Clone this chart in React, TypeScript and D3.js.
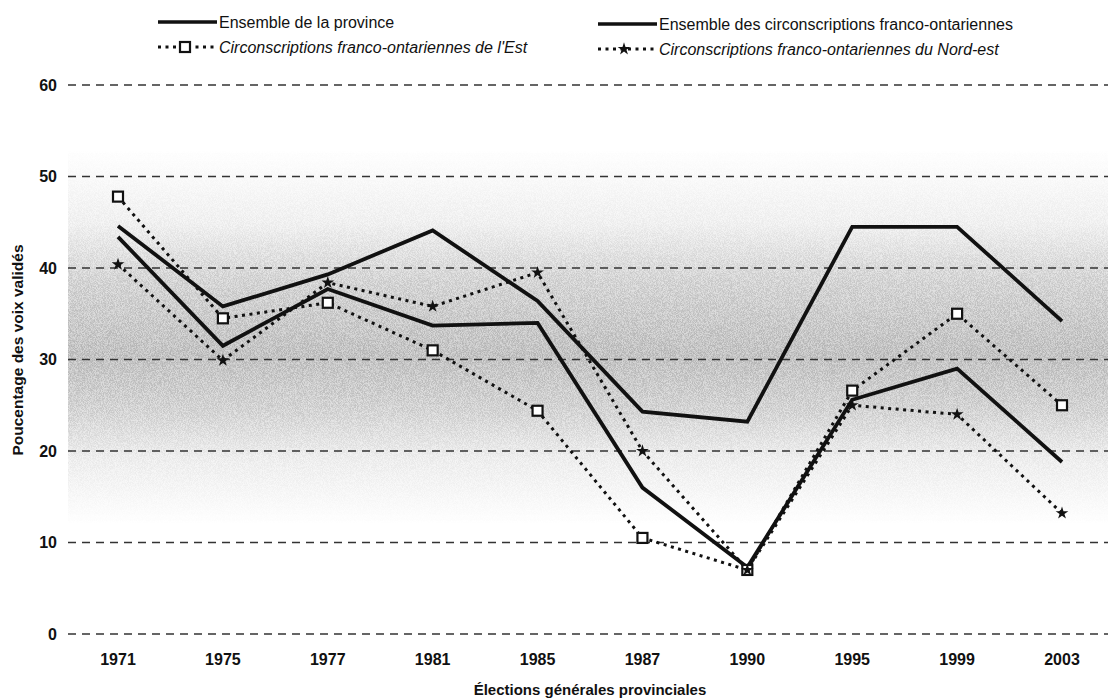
import React from 'react';
import * as d3 from 'd3';

// années des élections
const years = ['1971', '1975', '1977', '1981', '1985', '1987', '1990', '1995', '1999', '2003'];
// pourcentages
const province = [44.6, 35.8, 39.3, 44.1, 36.4, 24.3, 23.2, 44.5, 44.5, 34.2];
const francoOnt = [43.4, 31.5, 37.7, 33.7, 34.0, 16.0, 7.3, 25.6, 29.0, 18.8];
const est = [47.8, 34.5, 36.2, 31.0, 24.4, 10.5, 7.0, 26.6, 35.0, 25.0];
const nordEst = [40.4, 29.9, 38.4, 35.8, 39.5, 20.0, 7.0, 25.0, 24.0, 13.2];
const yTicks = [0, 10, 20, 30, 40, 50, 60];

const W = 1108;
const H = 700;
const narrow = '"Liberation Sans Narrow", "Arial Narrow", "Liberation Sans", Arial, sans-serif';
const sans = '"Liberation Sans", Arial, sans-serif';

export default function App() {
  const x = d3.scalePoint().domain(years).range([118, 1062]).padding(0);
  const y = d3.scaleLinear().domain([0, 60]).range([634, 85]);

  const line = d3
    .line<number>()
    .x((_, i) => x(years[i]) as number)
    .y((d) => y(d));

  const star = d3.symbol().type(d3.symbolStar).size(50)();

  const dotted = { fill: 'none', stroke: '#111', strokeWidth: 3, strokeDasharray: '3 4.5' };
  const solid = { fill: 'none', stroke: '#111', strokeWidth: 3.8, strokeLinejoin: 'miter' as const };

  return (
    <svg width={W} height={H} style={{ position: 'absolute', left: 0, top: 0, background: '#fff' }}>
      <defs>
        <linearGradient id="band" x1="0" y1="0" x2="0" y2="1">
          <stop offset="0" stopColor="#000" stopOpacity="0" />
          <stop offset="0.2" stopColor="#000" stopOpacity="0.1" />
          <stop offset="0.35" stopColor="#000" stopOpacity="0.3" />
          <stop offset="0.55" stopColor="#000" stopOpacity="0.45" />
          <stop offset="0.7" stopColor="#000" stopOpacity="0.3" />
          <stop offset="0.82" stopColor="#000" stopOpacity="0.12" />
          <stop offset="1" stopColor="#000" stopOpacity="0" />
        </linearGradient>
        <filter id="grain" x="0" y="0" width="100%" height="100%">
          <feTurbulence type="fractalNoise" baseFrequency="0.85 1.6" numOctaves="2" seed="4" result="n" />
          <feColorMatrix
            in="n"
            type="matrix"
            values="0 0 0 0 0.25  0 0 0 0 0.25  0 0 0 0 0.25  3.2 0 0 0 -1.1"
            result="dots"
          />
          <feComposite in="dots" in2="SourceGraphic" operator="in" />
        </filter>
      </defs>

      {/* fond gris tramé */}
      <rect x={68} y={y(53)} width={W - 68} height={y(12) - y(53)} fill="url(#band)" opacity={0.38} />
      <rect x={68} y={y(53)} width={W - 68} height={y(12) - y(53)} fill="url(#band)" filter="url(#grain)" />

      {/* grille */}
      {yTicks.map((t) => (
        <g key={t}>
          <line
            x1={68}
            x2={W}
            y1={y(t)}
            y2={y(t)}
            stroke="#333"
            strokeWidth={1.3}
            strokeDasharray="8 6"
          />
          <text
            x={57}
            y={y(t)}
            dy="0.35em"
            textAnchor="end"
            fontFamily={sans}
            fontWeight="bold"
            fontSize={16}
            fill="#111"
          >
            {t}
          </text>
        </g>
      ))}

      {years.map((yr) => (
        <text
          key={yr}
          x={x(yr)}
          y={665}
          textAnchor="middle"
          fontFamily={sans}
          fontWeight="bold"
          fontSize={16}
          fill="#111"
        >
          {yr}
        </text>
      ))}

      <text x={590} y={695} textAnchor="middle" fontFamily={sans} fontWeight="bold" fontSize={15} fill="#111">
        Élections générales provinciales
      </text>
      <text
        transform="translate(23,350) rotate(-90)"
        textAnchor="middle"
        fontFamily={sans}
        fontWeight="bold"
        fontSize={15.5}
        fill="#111"
      >
        Poucentage des voix validés
      </text>

      {/* séries */}
      <path d={line(est) as string} {...dotted} />
      <path d={line(nordEst) as string} {...dotted} />
      <path d={line(province) as string} {...solid} />
      <path d={line(francoOnt) as string} {...solid} />

      {est.map((v, i) => (
        <rect
          key={i}
          x={(x(years[i]) as number) - 5}
          y={y(v) - 5}
          width={10}
          height={10}
          fill="#fff"
          stroke="#111"
          strokeWidth={2.2}
        />
      ))}
      {nordEst.map((v, i) => (
        <path key={i} d={star as string} transform={`translate(${x(years[i])},${y(v)})`} fill="#111" />
      ))}

      {/* légende */}
      <line x1={158} x2={217} y1={22} y2={22} stroke="#111" strokeWidth={3.4} />
      <text x={219} y={22} dy="0.35em" fontFamily={narrow} fontSize={16} fill="#111">
        Ensemble de la province
      </text>
      <line x1={598} x2={657} y1={24} y2={24} stroke="#111" strokeWidth={3.4} />
      <text x={659} y={24} dy="0.35em" fontFamily={narrow} fontSize={16} fill="#111">
        Ensemble des circonscriptions franco-ontariennes
      </text>

      <line x1={158} x2={217} y1={47} y2={47} {...dotted} />
      <rect x={180} y={42} width={10} height={10} fill="#fff" stroke="#111" strokeWidth={2.2} />
      <text x={219} y={47} dy="0.35em" fontFamily={narrow} fontStyle="italic" fontSize={16} fill="#111">
        Circonscriptions franco-ontariennes de l'Est
      </text>
      <line x1={598} x2={657} y1={49} y2={49} {...dotted} />
      <path d={star as string} transform="translate(624,49)" fill="#111" />
      <text x={659} y={49} dy="0.35em" fontFamily={narrow} fontStyle="italic" fontSize={16} fill="#111">
        Circonscriptions franco-ontariennes du Nord-est
      </text>
    </svg>
  );
}
